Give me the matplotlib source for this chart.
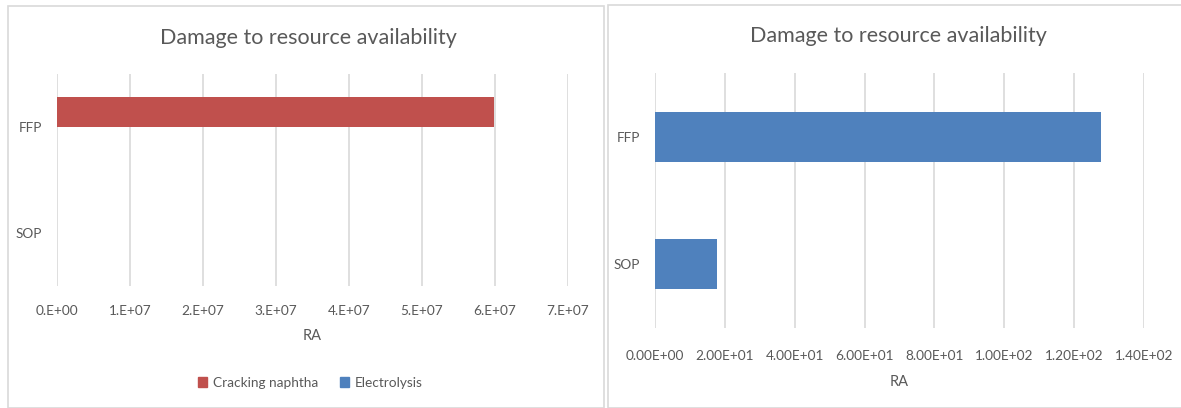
import numpy as np
import matplotlib.pyplot as plt
from matplotlib.patches import Rectangle, Patch

plt.rcParams["font.family"] = ["Lato", "DejaVu Sans"]

# -----------------------------
# Data
# -----------------------------
categories = ["SOP", "FFP"]
cracking_naphtha = [0.0, 5.98e7]
electrolysis = [17.7, 127.6]

left_ticks = [0, 1e7, 2e7, 3e7, 4e7, 5e7, 6e7, 7e7]
left_tick_labels = ["0.E+00", "1.E+07", "2.E+07", "3.E+07", "4.E+07", "5.E+07", "6.E+07", "7.E+07"]
right_ticks = [0, 20, 40, 60, 80, 100, 120, 140]
right_tick_labels = ["0.00E+00", "2.00E+01", "4.00E+01", "6.00E+01", "8.00E+01",
                     "1.00E+02", "1.20E+02", "1.40E+02"]

title = "Damage to resource availability"
red = "#C0504D"
blue = "#4F81BD"
text_col = "#595959"
grid_col = "#D9D9D9"

W, H = 1181, 408
fig = plt.figure(figsize=(W / 100, H / 100), dpi=100)


def px_axes(x0, y0, x1, y1):
    # pixel box (top-left origin) -> figure axes
    return fig.add_axes([x0 / W, 1 - y1 / H, (x1 - x0) / W, (y1 - y0) / H])


def style(ax, ticks, labels, pad_x):
    ax.set_xticks(ticks)
    ax.set_xticklabels(labels)
    ax.set_xlim(ticks[0], ticks[-1])
    ax.set_ylim(-0.5, 1.5)
    ax.set_yticks(range(len(categories)))
    ax.set_yticklabels(categories)
    for s in ax.spines.values():
        s.set_visible(False)
    ax.grid(axis="x", color=grid_col, linewidth=1.2)
    ax.set_axisbelow(True)
    ax.tick_params(axis="both", length=0, colors=text_col, labelsize=9.8)
    ax.tick_params(axis="x", pad=pad_x)
    ax.tick_params(axis="y", pad=11)
    ax.set_xlabel("RA", color=text_col, fontsize=10.5, labelpad=9)


# panel borders
fig.patches.append(Rectangle((7.5 / W, 0), (604 - 7.5) / W, 1 - 6 / H, transform=fig.transFigure,
                             fill=False, edgecolor=grid_col, linewidth=1.2))
fig.patches.append(Rectangle((607.5 / W, 0), 1 - 607.5 / W + 0.01, 1 - 4.5 / H,
                             transform=fig.transFigure, fill=False, edgecolor=grid_col, linewidth=1.2))

# -----------------------------
# Left chart: both series
# -----------------------------
ax1 = px_axes(57, 74.5, 568, 285.5)
y = np.arange(len(categories))
h1 = 0.285
ax1.barh(y + h1 / 2, cracking_naphtha, height=h1, color=red)
ax1.barh(y - h1 / 2, electrolysis, height=h1, color=blue)
style(ax1, left_ticks, left_tick_labels, pad_x=14)
fig.text(308 / W, 1 - 38 / H, title, ha="center", va="center", fontsize=15.5, color=text_col)

fig.legend(handles=[Patch(color=red, label="Cracking naphtha"),
                    Patch(color=blue, label="Electrolysis")],
           loc="center", bbox_to_anchor=(310 / W, 1 - 383 / H), ncol=2, frameon=False,
           fontsize=9.8, labelcolor=text_col, handlelength=0.7, handleheight=0.7,
           handletextpad=0.4, columnspacing=1.6)

# -----------------------------
# Right chart: electrolysis only
# -----------------------------
ax2 = px_axes(655, 73, 1144, 328)
ax2.barh(y, electrolysis, height=0.39, color=blue)
style(ax2, right_ticks, right_tick_labels, pad_x=16)
fig.text(898 / W, 1 - 36 / H, title, ha="center", va="center", fontsize=15.5, color=text_col)

fig.savefig("out.png", dpi=100)
